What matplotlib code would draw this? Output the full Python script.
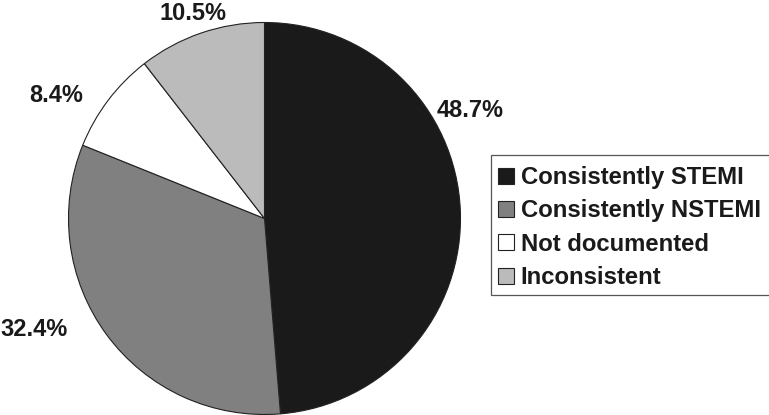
import matplotlib
matplotlib.use("Agg")
import matplotlib.pyplot as plt
from matplotlib.patches import Patch, Rectangle

plt.rcParams['font.family'] = ['Liberation Sans', 'DejaVu Sans']

categories = ["Consistently STEMI", "Consistently NSTEMI", "Not documented", "Inconsistent"]
values = [48.7, 32.4, 8.4, 10.5]
colors = ["#1a1a1a", "#808080", "#ffffff", "#bbbbbb"]
label_pos = [(1.051, 0.551), (-1.176, -0.566), (-1.061, 0.628), (-0.367, 1.048)]

W, H = 769, 415
fig = plt.figure(figsize=(W / 100, H / 100), dpi=100)
cx, cy, r = 264.5, 218.5, 196
ax = fig.add_axes([(cx - r) / W, (H - cy - r) / H, 2 * r / W, 2 * r / H])
ax.pie(values, colors=colors, startangle=90, counterclock=False, radius=1,
       wedgeprops=dict(edgecolor="#222222", linewidth=0.8))
ax.set_xlim(-1, 1)
ax.set_ylim(-1, 1)
ax.set_aspect('equal')
ax.axis('off')

for v, (x, y) in zip(values, label_pos):
    ax.text(x, y, f"{v}%", ha='center', va='center', fontsize=17, fontweight='bold',
            color="#1a1a1a")

# legend frame (extends past the right edge as in the reference)
fx0, fy0, fx1, fy1 = 491, 155, 778, 295
fig.patches.append(Rectangle((fx0 / W, 1 - fy1 / H), (fx1 - fx0) / W, (fy1 - fy0) / H,
                             transform=fig.transFigure, facecolor='white',
                             edgecolor="#555555", linewidth=0.9, zorder=0))

handles = [Patch(facecolor=c, edgecolor="#222222", linewidth=0.8) for c in colors]
leg = fig.legend(handles, categories, loc='upper left',
                 bbox_to_anchor=(491 / W, 1 - 159 / H),
                 prop=dict(weight='bold', size=17.2), frameon=False,
                 handlelength=0.65, handleheight=0.65,
                 handletextpad=0.3, labelspacing=0.43, borderpad=0.3,
                 borderaxespad=0)
for t in leg.get_texts():
    t.set_color("#1a1a1a")

fig.savefig("out.png", dpi=100)
